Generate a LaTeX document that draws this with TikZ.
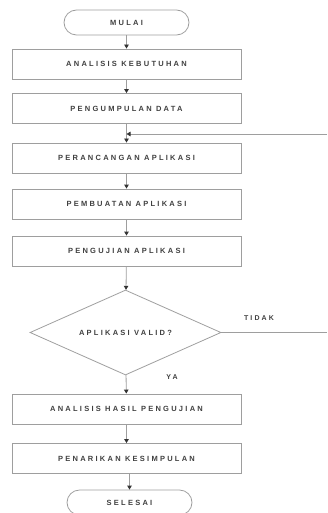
\documentclass[tikz,border=0pt]{standalone}
\usepackage{fontspec}
\setmainfont{Liberation Sans}
\newfontfamily\flowfont[LetterSpace=30]{Liberation Sans}
\usetikzlibrary{shapes.geometric,arrows.meta}
\definecolor{edgegray}{gray}{0.62}
\definecolor{textgray}{gray}{0.25}
\tikzset{
  every node/.style={font=\flowfont\fontsize{7.5}{9}\selectfont\bfseries, text=textgray},
  stepbox/.style={draw=edgegray, line width=0.8pt, rectangle, minimum width=229pt, minimum height=30pt, inner sep=0pt},
  terminal/.style={draw=edgegray, line width=0.8pt, rectangle, rounded corners=12.5pt, minimum width=125pt, minimum height=25pt, inner sep=0pt},
  decision/.style={draw=edgegray, line width=0.8pt, diamond, aspect=2.25, minimum width=191pt, minimum height=85pt, inner sep=0pt},
  flow/.style={draw=edgegray, line width=0.8pt, -{Triangle[length=4pt,width=4.5pt,fill=black!80,color=black!80]}},
  plain/.style={draw=edgegray, line width=0.8pt},
  tag/.style={font=\flowfont\fontsize{7}{8}\selectfont\bfseries}
}
\begin{document}
\begin{tikzpicture}[x=1pt,y=-1pt]
  \useasboundingbox (0,0) rectangle (327,513);
  \node[terminal] (start) at (126.5,22.5) {MULAI};
  \node[stepbox] (s1) at (126.5,64) {ANALISIS KEBUTUHAN};
  \node[stepbox] (s2) at (126.5,108.5) {PENGUMPULAN DATA};
  \node[stepbox] (s3) at (126.5,158) {PERANCANGAN APLIKASI};
  \node[stepbox] (s4) at (126.5,204) {PEMBUATAN APLIKASI};
  \node[stepbox] (s5) at (126.5,251) {PENGUJIAN APLIKASI};
  \node[decision] (d) at (125.5,332.5) {APLIKASI VALID?};
  \node[stepbox] (s6) at (126.5,409) {ANALISIS HASIL PENGUJIAN};
  \node[stepbox] (s7) at (126.5,458.5) {PENARIKAN KESIMPULAN};
  \node[terminal] (stop) at (129.5,502.5) {SELESAI};

  \coordinate (backin) at (327,134);
  \coordinate (backjoin) at (s2.south |- backin);
  \coordinate (noout) at (327,332.5);

  \draw[flow] (start) -- (s1);
  \draw[flow] (s1) -- (s2);
  \draw[flow] (s2) -- (s3);
  \draw[flow] (backin) -- (backjoin);
  \draw[flow] (s3) -- (s4);
  \draw[flow] (s4) -- (s5);
  \draw[flow] (s5) -- (d);
  \draw[flow] (d) -- (s6);
  \draw[flow] (s6) -- (s7);
  \draw[flow] (s7.south -| stop) -- (stop);
  \draw[plain] (d.east) -- (noout);

  \node[tag] (no) at (259,318) {TIDAK};
  \node[tag] (yes) at (172,377) {YA};
\end{tikzpicture}
\end{document}
